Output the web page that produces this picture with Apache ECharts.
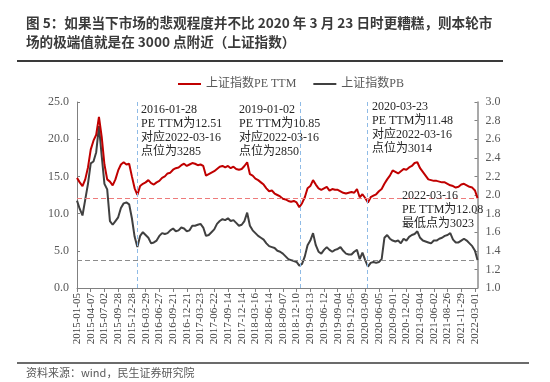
<!DOCTYPE html>
<html><head><meta charset="utf-8">
<script src="https://cdn.jsdelivr.net/npm/echarts@6/dist/echarts.min.js"></script>
<style>html,body{margin:0;padding:0;background:#fff}#c{width:550px;height:382px}</style>
</head><body><div id="c"></div>
<script>
// x-axis tick labels (every 60 trading days from 2015-01-05)
const tickDates = ['2015-01-05','2015-04-07','2015-07-02','2015-09-28','2015-12-28','2016-03-29','2016-06-27','2016-09-21','2016-12-21','2017-03-23','2017-06-22','2017-09-14','2017-12-14','2018-03-16','2018-06-14','2018-09-07','2018-12-10','2019-03-13','2019-06-12','2019-09-04','2019-12-05','2020-03-09','2020-06-05','2020-09-01','2020-12-02','2021-03-04','2021-06-02','2021-08-26','2021-11-29','2022-03-01'];
const tickEvery = 60;          // trading days between tick labels
const sampleStep = 12;         // trading days between samples
const lastDayIndex = 1751;     // 2022-03-16
const seriesNames = ['上证指数PE TTM', '上证指数PB'];

const peTTM = [
14.8,14.2,13.7,14.6,16.2,18.6,19.8,20.6,23.0,20.3,
16.6,14.6,14.3,13.8,14.6,15.8,16.6,16.9,16.6,16.7,
15.0,13.4,12.51,13.7,14.0,14.2,14.5,14.1,13.9,14.2,
14.4,14.8,15.0,15.4,15.5,15.9,16.1,16.2,16.5,16.7,
16.4,16.6,16.8,16.7,16.5,16.6,16.4,15.1,15.3,15.5,
15.7,16.0,16.3,16.4,16.2,16.4,16.1,16.3,16.0,15.9,
16.0,16.4,16.9,15.3,15.1,14.7,14.5,14.2,13.9,13.4,
13.0,13.1,12.7,12.5,12.3,12.0,11.9,11.7,11.6,11.7,
11.5,10.85,11.4,12.2,13.4,13.7,14.5,13.9,13.4,13.2,
13.4,13.6,13.1,13.3,13.2,13.2,13.0,12.8,12.7,12.8,
12.9,12.8,13.3,12.2,12.6,12.1,11.48,12.2,12.4,12.6,
13.0,13.3,14.0,14.6,15.1,15.8,15.6,15.4,15.7,16.0,
15.9,16.2,16.4,16.8,16.9,16.1,15.6,15.1,14.6,14.5,
14.4,14.4,14.3,14.2,14.2,14.0,13.8,13.7,13.5,13.6,
13.9,14.0,13.8,13.6,13.5,13.1,
12.08];

const pb = [
1.94,1.85,1.78,1.95,2.12,2.34,2.36,2.46,2.74,2.42,
2.12,2.06,1.72,1.68,1.72,1.76,1.86,1.91,1.92,1.90,
1.75,1.55,1.44,1.56,1.60,1.57,1.54,1.48,1.49,1.51,
1.56,1.59,1.58,1.59,1.62,1.64,1.61,1.62,1.65,1.64,
1.61,1.62,1.67,1.67,1.68,1.69,1.65,1.56,1.57,1.60,
1.63,1.69,1.72,1.74,1.73,1.75,1.72,1.73,1.70,1.67,
1.68,1.72,1.81,1.67,1.62,1.59,1.56,1.54,1.52,1.48,
1.45,1.44,1.43,1.40,1.39,1.37,1.34,1.31,1.30,1.29,
1.28,1.24,1.26,1.34,1.46,1.51,1.59,1.46,1.39,1.37,
1.41,1.44,1.41,1.39,1.41,1.42,1.44,1.40,1.37,1.36,
1.36,1.39,1.41,1.31,1.38,1.30,1.23,1.27,1.28,1.27,
1.28,1.31,1.54,1.57,1.53,1.51,1.50,1.51,1.48,1.53,
1.51,1.55,1.57,1.58,1.61,1.54,1.51,1.50,1.49,1.48,
1.51,1.51,1.53,1.54,1.56,1.57,1.59,1.52,1.49,1.49,
1.51,1.53,1.51,1.48,1.45,1.40,
1.30];

const peMarkValue = 12.08;
const pbMarkValue = 1.30;
const eventDayIndex = [262, 975, 1270]; // 2016-01-28, 2019-01-02, 2020-03-23

const notes = [
  '2016-01-28\nPE TTM为12.51\n对应2022-03-16\n点位为3285',
  '2019-01-02\nPE TTM为10.85\n对应2022-03-16\n点位为2850',
  '2020-03-23\nPE TTM为11.48\n对应2022-03-16\n点位为3014',
  '2022-03-16\nPE TTM为12.08\n最低点为3023'
];
const titleLines = ['图 5：如果当下市场的悲观程度并不比 2020 年 3 月 23 日时更糟糕，则本轮市', '场的极端值就是在 3000 点附近（上证指数）'];
const sourceText = '资料来源：wind，民生证券研究院';

function toPairs(arr) {
  return arr.map((v, i) => [i === arr.length - 1 ? lastDayIndex : i * sampleStep, v]);
}

const SERIF = "'Liberation Serif','Times New Roman','Noto Sans CJK SC',serif";
const SANS = "'Noto Sans CJK SC','Noto Sans',sans-serif";

const chart = echarts.init(document.getElementById('c'), null, {renderer: 'canvas'});
const noteStyle = (x, y, t) => ({type: 'text', z: 50, style: {text: t, x: x, y: y, fill: '#262626', font: '12px ' + SERIF, lineHeight: 14, textVerticalAlign: 'top'}});

chart.setOption({
  animation: false,
  backgroundColor: '#fff',
  grid: {left: 77, right: 72.5, top: 102, bottom: 94, containLabel: false},
  legend: {
    data: seriesNames, left: 173, top: 73, icon: 'rect', itemWidth: 23, itemHeight: 2, itemGap: 17,
    textStyle: {fontSize: 12, color: '#595959', fontFamily: SERIF}
  },
  xAxis: {
    type: 'value', min: 0, max: lastDayIndex,
    splitLine: {show: false},
    axisLine: {lineStyle: {color: '#808080', width: 1}},
    axisTick: {show: true, length: 4, inside: false, lineStyle: {color: '#808080'}, customValues: tickDates.map((d, i) => i * tickEvery)},
    axisLabel: {
      customValues: tickDates.map((d, i) => i * tickEvery),
      rotate: 90, margin: 5, fontSize: 11, color: '#404040', fontFamily: SERIF,
      formatter: v => tickDates[Math.round(v / tickEvery)] || ''
    }
  },
  yAxis: [
    {type: 'value', min: 0, max: 25, interval: 5, splitLine: {show: false},
     axisLine: {show: true, lineStyle: {color: '#808080'}},
     axisTick: {show: true, inside: true, length: 3, lineStyle: {color: '#808080'}},
     axisLabel: {fontSize: 12, color: '#595959', fontFamily: SERIF, margin: 8, formatter: v => v.toFixed(1)}},
    {type: 'value', min: 1, max: 3, interval: 0.2, position: 'right', splitLine: {show: false},
     axisLine: {show: true, lineStyle: {color: '#8c8c8c', width: 1.5}},
     axisTick: {show: true, inside: true, length: 3, lineStyle: {color: '#808080'}},
     axisLabel: {fontSize: 12, color: '#595959', fontFamily: SERIF, margin: 8, formatter: v => v.toFixed(1)}}
  ],
  series: [
    {name: seriesNames[0], type: 'line', yAxisIndex: 0, data: toPairs(peTTM), showSymbol: false, symbol: 'none',
     lineStyle: {color: '#c00000', width: 2}, itemStyle: {color: '#c00000'}, z: 3,
     markLine: {silent: true, symbol: ['none', 'none'], label: {show: false},
       data: [
         {yAxis: peMarkValue, lineStyle: {color: '#ee7b7b', type: [5, 3], width: 1}},
         ...eventDayIndex.map(d => ({xAxis: d, lineStyle: {color: '#8fbbe6', type: [4, 3], width: 1}}))
       ]}},
    {name: seriesNames[1], type: 'line', yAxisIndex: 1, data: toPairs(pb), showSymbol: false, symbol: 'none',
     lineStyle: {color: '#404040', width: 2}, itemStyle: {color: '#404040'}, z: 2,
     markLine: {silent: true, symbol: ['none', 'none'], label: {show: false},
       data: [{yAxis: pbMarkValue, lineStyle: {color: '#8c8c8c', type: [5, 3], width: 1}}]}}
  ],
  graphic: [
    {type: 'text', style: {text: titleLines[0], x: 26, y: 23, fill: '#3a3a3a', font: 'bold 13.6px ' + SANS, textVerticalAlign: 'middle'}},
    {type: 'text', style: {text: titleLines[1], x: 26, y: 42, fill: '#3a3a3a', font: 'bold 13.6px ' + SANS, textVerticalAlign: 'middle'}},
    {type: 'line', shape: {x1: 17, y1: 61, x2: 503, y2: 61}, style: {stroke: '#3a3a3a', lineWidth: 2}},
    {type: 'line', shape: {x1: 17, y1: 363, x2: 529, y2: 363}, style: {stroke: '#3a3a3a', lineWidth: 1.5}},
    {type: 'text', style: {text: sourceText, x: 26, y: 373, fill: '#595959', font: '11px ' + SANS, textVerticalAlign: 'middle'}},
    noteStyle(141, 103, notes[0]),
    noteStyle(239, 103, notes[1]),
    noteStyle(372, 100, notes[2]),
    noteStyle(402, 189, notes[3])
  ]
});
</script></body></html>
